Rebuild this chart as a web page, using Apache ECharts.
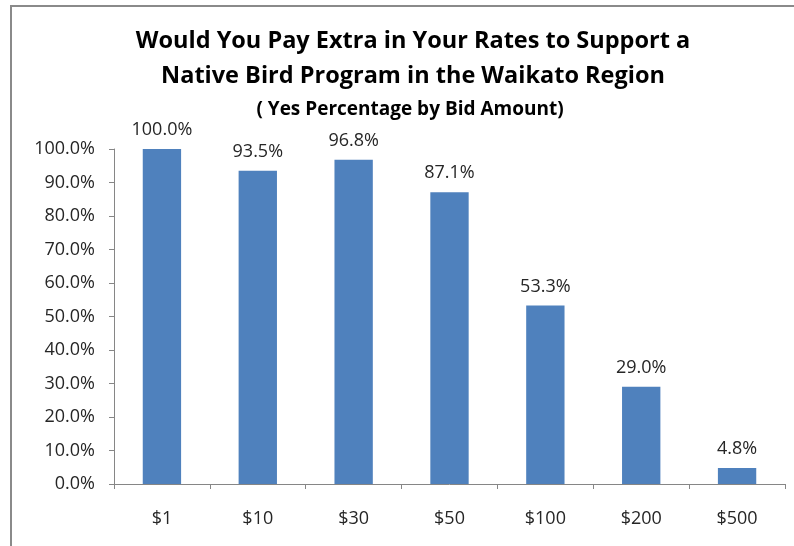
<!DOCTYPE html>
<html>
<head>
<meta charset="utf-8">
<script src="https://cdn.jsdelivr.net/npm/echarts@6/dist/echarts.min.js"></script>
<style>
  html, body { margin: 0; padding: 0; background: #fff; }
  #chart { width: 794px; height: 546px; }
</style>
</head>
<body>
<div id="chart"></div>
<script>
// Bid amounts and the share of "yes" responses at each amount (percent)
const bidAmounts = ['$1', '$10', '$30', '$50', '$100', '$200', '$500'];
const yesPercent = [100.0, 93.5, 96.8, 87.1, 53.3, 29.0, 4.8];

const titleLines = [
  'Would You Pay Extra in Your Rates to Support a',
  'Native Bird Program in the Waikato Region'
];
const subtitleText = '( Yes Percentage by Bid Amount)';

const FONT = '"Open Sans", "DejaVu Sans", sans-serif';
const axisGray = '#868686';
const textColor = '#262626';

const chart = echarts.init(document.getElementById('chart'), null, { renderer: 'canvas' });

chart.setOption({
  animation: false,
  backgroundColor: '#ffffff',
  title: [
    {
      text: titleLines.join('\n'),
      left: 408,
      top: 19,
      textAlign: 'center',
      textStyle: {
        fontFamily: FONT,
        fontWeight: 'bold',
        fontSize: 23.5,
        lineHeight: 35,
        color: '#000000'
      }
    },
    {
      text: subtitleText,
      left: 405,
      top: 93,
      textAlign: 'center',
      textStyle: {
        fontFamily: FONT,
        fontWeight: 'bold',
        fontSize: 19,
        lineHeight: 24,
        color: '#000000'
      }
    }
  ],
  graphic: [
    {
      // frame along the left and top edges
      type: 'polyline',
      shape: { points: [[11, 546], [11, 6], [794, 6]] },
      style: { stroke: '#8a8a8a', lineWidth: 2, fill: null },
      silent: true
    }
  ],
  grid: { left: 114, right: 9, top: 149, bottom: 62, containLabel: false },
  xAxis: {
    type: 'category',
    data: bidAmounts,
    axisLine: { lineStyle: { color: axisGray, width: 1 } },
    axisTick: { show: true, alignWithLabel: false, length: 5, lineStyle: { color: axisGray } },
    axisLabel: {
      fontFamily: FONT,
      fontSize: 18,
      color: textColor,
      margin: 26
    }
  },
  yAxis: {
    type: 'value',
    min: 0,
    max: 100,
    interval: 10,
    axisLine: { show: true, lineStyle: { color: axisGray, width: 1 } },
    axisTick: { show: true, length: 5, lineStyle: { color: axisGray } },
    splitLine: { show: false },
    axisLabel: {
      fontFamily: FONT,
      fontSize: 18,
      color: textColor,
      margin: 19,
      formatter: v => v.toFixed(1) + '%'
    }
  },
  series: [
    {
      type: 'bar',
      data: yesPercent,
      barWidth: '40%',
      itemStyle: { color: '#4f81bd' },
      label: {
        show: true,
        position: 'top',
        distance: 10,
        fontFamily: FONT,
        fontSize: 18,
        color: textColor,
        formatter: p => p.value.toFixed(1) + '%'
      }
    }
  ]
});
</script>
</body>
</html>
